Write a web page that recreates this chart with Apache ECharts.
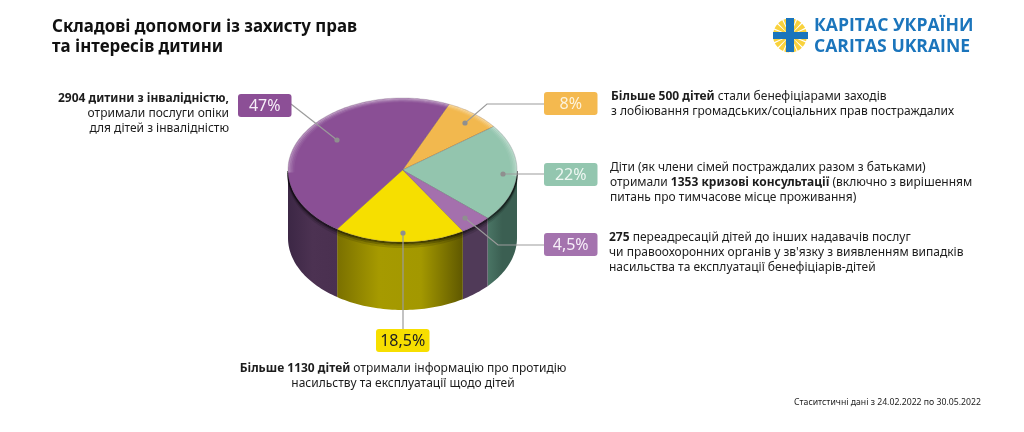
<!DOCTYPE html>
<html>
<head>
<meta charset="utf-8">
<title>Складові допомоги</title>
<script src="https://cdn.jsdelivr.net/npm/echarts@6/dist/echarts.min.js"></script>
<style>
  body { margin: 0; padding: 0; background: #fff; }
  #main { width: 1024px; height: 432px; }
</style>
</head>
<body>
<div id="main"></div>
<script>
// дані діаграми, за годинниковою стрілкою від помаранчевого сектора
const categories = ['Лобіювання прав', 'Кризові консультації', 'Переадресації', 'Інформація', 'Послуги опіки'];
const shares = [8, 22, 4.5, 18.5, 47];
const topColors = ['#f2b84e', '#93c5ae', '#a470ad', '#f6df00', '#8a4f95'];
const boxColors = ['#f4b94f', '#93c6af', '#a473ae', '#f7df00', '#8c4f96'];
const boxTextColors = ['#fdf3dc', '#eef7f2', '#f6eef8', '#222222', '#f6eef8'];
const wallStops = [
  ['#3f2a47', '#3f2a47'],
  ['#4a7565', '#3b5f52', '#3b5f52'],
  ['#503a58', '#503a58'],
  ['#7a7000', '#a69a00', '#a39800', '#5f5800'],
  ['#3c2745', '#4c3252', '#4a3050']
];

const titleLines = ['Складові допомоги із захисту прав', 'та інтересів дитини'];
const logoLines = ['КАРІТАС УКРАЇНИ', 'CARITAS UKRAINE'];
const footnote = 'Стаситстичні дані з 24.02.2022 по 30.05.2022';
const noteLines = [
  ['{b|Більше 500 дітей} стали бенефіціарами заходів', 'з лобіювання громадських/соціальних прав постраждалих'],
  ['Діти (як члени сімей постраждалих разом з батьками)', 'отримали {b|1353 кризові консультації} (включно з вирішенням', 'питань про тимчасове місце проживання)'],
  ['{b|275} переадресацій дітей до інших надавачів послуг', 'чи правоохоронних органів у зв\'язку з виявленням випадків', 'насильства та експлуатації бенефіціарів-дітей'],
  ['{b|Більше 1130 дітей} отримали інформацію про протидію', 'насильству та експлуатації щодо дітей'],
  ['{b|2904 дитини з інвалідністю,}', 'отримали послуги опіки', 'для дітей з інвалідністю']
];

const FONT = '"Noto Sans", sans-serif';
const START_DEG = 24;     // де починається перший сектор
const DEPTH = 0.944;      // висота циліндра в одиницях осі y

// кумулятивні межі секторів
let acc = 0;
const sliceData = shares.map((v, i) => {
  const from = acc;
  acc += v;
  return { name: categories[i], value: [from, acc, i] };
});

const toDeg = (p) => START_DEG + p * 3.6;
function arcPoints(api, a0, a1, r, dy) {
  const pts = [];
  const n = Math.max(2, Math.ceil(Math.abs(a1 - a0) / 1.5));
  for (let i = 0; i <= n; i++) {
    const a = (a0 + (a1 - a0) * i / n) * Math.PI / 180;
    pts.push(api.coord([r * Math.sin(a), r * Math.cos(a) + dy]));
  }
  return pts;
}

function renderWall(params, api) {
  const idx = api.value(2);
  let a0 = toDeg(api.value(0)), a1 = toDeg(api.value(1));
  a0 = Math.max(a0, 90);
  a1 = Math.min(a1, 270);
  if (a1 <= a0) return { type: 'group', children: [] };
  const top = arcPoints(api, a0, a1, 1, 0);
  const bottom = arcPoints(api, a1, a0, 1, -DEPTH);
  const cols = wallStops[idx];
  const stops = cols.map((c, i) => ({ offset: i / (cols.length - 1), color: c }));
  const children = [{
    type: 'polygon',
    shape: { points: top.concat(bottom) },
    style: { fill: new echarts.graphic.LinearGradient(0, 0, 1, 0, stops) }
  }];
  // тінь під краєм верхньої площини
  [[0.014, 0.55], [0.04, 0.3], [0.07, 0.12]].forEach((s) => {
    children.push({
      type: 'polyline',
      shape: { points: arcPoints(api, a0, a1, 1, -s[0]) },
      style: { fill: null, stroke: 'rgba(0,0,0,' + s[1] + ')', lineWidth: 2 }
    });
  });
  return { type: 'group', children: children };
}

function renderTop(params, api) {
  const idx = api.value(2);
  const a0 = toDeg(api.value(0)), a1 = toDeg(api.value(1));
  const arc = arcPoints(api, a0, a1, 1, 0);
  const children = [{
    type: 'polygon',
    shape: { points: [api.coord([0, 0])].concat(arc) },
    style: { fill: topColors[idx], stroke: 'rgba(60,40,60,0.35)', lineWidth: 0.6 }
  }];
  // світлий скіс по дальньому краю
  const ranges = [[a0, Math.min(a1, 95)], [Math.max(a0, 268), a1]];
  ranges.forEach((rg) => {
    if (rg[1] <= rg[0]) return;
    [[0.994, 0.3], [0.98, 0.2], [0.966, 0.11], [0.952, 0.05]].forEach((s) => {
      children.push({
        type: 'polyline',
        shape: { points: arcPoints(api, rg[0], rg[1], s[0], 0) },
        style: { fill: null, stroke: 'rgba(255,255,255,' + s[1] + ')', lineWidth: 1.8 }
      });
    });
  });
  return { type: 'group', children: children };
}

// підписи й виноски
const elements = [];
function addText(text, x, y, size, opt) {
  elements.push({
    type: 'text', z: 20,
    style: Object.assign({
      text: text, x: x, y: y, fontFamily: FONT, fontSize: size, fill: '#1c1c1c',
      align: 'left', verticalAlign: 'middle',
      rich: { b: { fontFamily: FONT, fontSize: size, fontWeight: 'bold', fill: '#1c1c1c' } }
    }, opt || {})
  });
}
function addLeader(points, dot) {
  elements.push({ type: 'polyline', z: 15, shape: { points: points },
    style: { fill: null, stroke: '#9b9b9b', lineWidth: 1.2 } });
  elements.push({ type: 'circle', z: 16, shape: { cx: dot[0], cy: dot[1], r: 2.6 },
    style: { fill: '#8f8f8f' } });
}
function addBox(i, x, y) {
  elements.push({ type: 'rect', z: 17, shape: { x: x, y: y, width: 53.5, height: 23, r: 3 },
    style: { fill: boxColors[i] } });
  addText(String(shares[i]).replace('.', ',') + '%', x + 26.7, y + 12, 16, { align: 'center', fill: boxTextColors[i] });
}

titleLines.forEach((t, i) => addText(t, 52, 27 + i * 20.5, 16.9, { fontWeight: 'bold', fill: '#111' }));

addLeader([[544, 104], [487, 104], [465, 123]], [465, 123]);
addLeader([[544, 174], [503, 174]], [503, 174]);
addLeader([[544, 245], [498, 245], [465, 218]], [465, 218]);
addLeader([[403, 329], [403, 233]], [403, 233]);
addLeader([[291, 104], [337, 140]], [337, 140]);
addBox(0, 544, 92);
addBox(1, 544, 163);
addBox(2, 544, 233);
addBox(3, 376, 329);
addBox(4, 238, 94);

noteLines[0].forEach((t, i) => addText(t, 611, 97 + i * 15, 12));
noteLines[1].forEach((t, i) => addText(t, 610, 168 + i * 14.6, 12));
noteLines[2].forEach((t, i) => addText(t, 609, 238 + i * 15, 12));
noteLines[3].forEach((t, i) => addText(t, 403, 369 + i * 15, 12, { align: 'center' }));
noteLines[4].forEach((t, i) => addText(t, 229, 99 + i * 15, 12, { align: 'right' }));
addText(footnote, 794, 403, 8.7);

// логотип
for (let q = 0; q < 4; q++) {
  for (let k = 0; k < 4; k++) {
    const base = q * Math.PI / 2 + 0.05 + k * 0.375;
    elements.push({ type: 'sector', z: 5,
      shape: { cx: 790, cy: 35.5, r0: 4, r: 17, startAngle: base, endAngle: base + 0.3 },
      style: { fill: '#f9d23c' } });
  }
}
elements.push({ type: 'rect', z: 6, shape: { x: 786, y: 18, width: 8, height: 34 }, style: { fill: '#1b75bc' } });
elements.push({ type: 'rect', z: 6, shape: { x: 773, y: 32, width: 35, height: 7 }, style: { fill: '#1b75bc' } });
logoLines.forEach((t, i) => addText(t, 814, 26 + i * 21, 17.6, { fontFamily: '"Open Sans", sans-serif', fontWeight: 'bold', fill: '#1b75bc' }));

const chart = echarts.init(document.getElementById('main'), null, { renderer: 'canvas' });
chart.setOption({
  animation: false,
  backgroundColor: '#ffffff',
  // одиничне коло розтягнуте сіткою в еліпс
  grid: { left: 288, width: 229, top: 98, height: 216 },
  xAxis: { type: 'value', min: -1, max: 1, show: false },
  yAxis: { type: 'value', min: -2, max: 1, show: false },
  graphic: { elements: elements },
  series: [
    { type: 'custom', name: 'walls', z: 2, clip: false, silent: true, renderItem: renderWall, data: sliceData },
    { type: 'custom', name: 'tops', z: 3, clip: false, silent: true, renderItem: renderTop, data: sliceData }
  ]
});
window.addEventListener('resize', function () { chart.resize(); });
</script>
</body>
</html>
